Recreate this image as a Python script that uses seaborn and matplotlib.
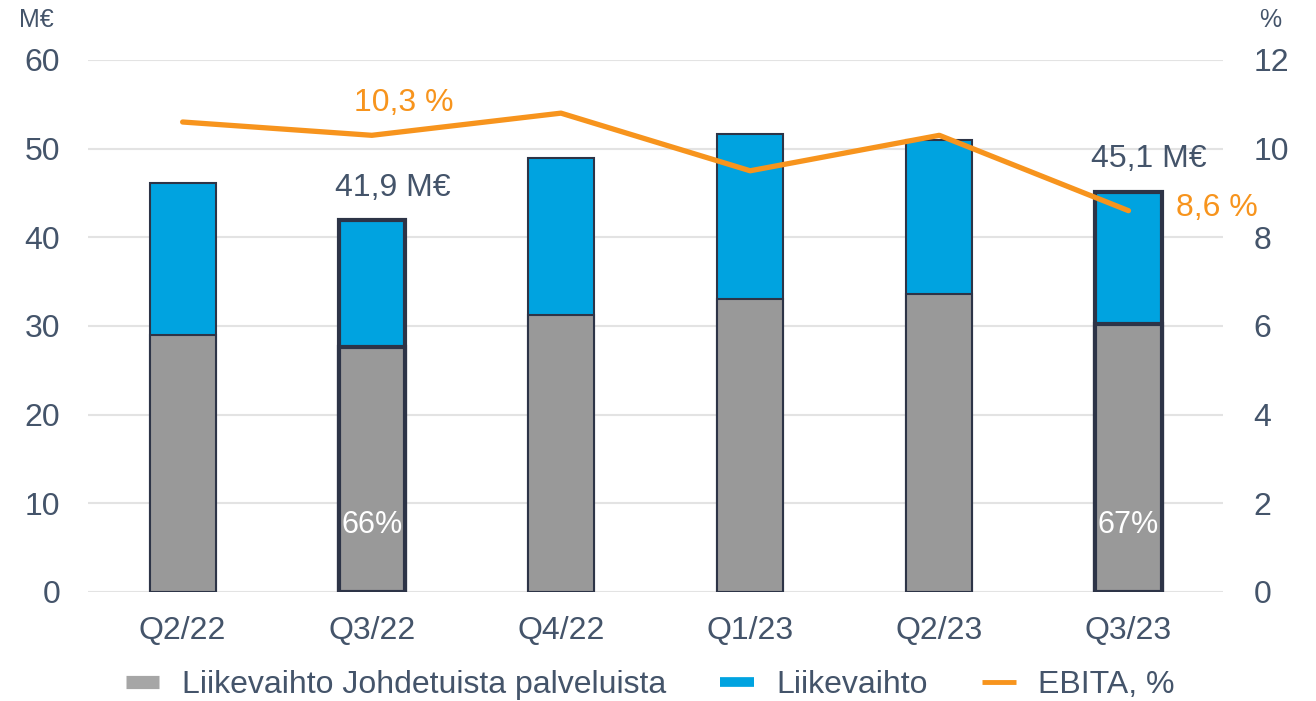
import numpy as np
import pandas as pd
import matplotlib
matplotlib.use("Agg")
import matplotlib.pyplot as plt
from matplotlib.lines import Line2D
import seaborn as sns

quarters = ["Q2/22", "Q3/22", "Q4/22", "Q1/23", "Q2/23", "Q3/23"]
revenue = [46.1, 41.9, 48.9, 51.6, 51.0, 45.1]
managed_revenue = [29.0, 27.6, 31.2, 33.0, 33.6, 30.2]
ebita_pct = [10.6, 10.3, 10.8, 9.5, 10.3, 8.6]
highlight = ["Q3/22", "Q3/23"]
share_labels = {"Q3/22": "66%", "Q3/23": "67%"}
total_labels = {"Q3/22": "41,9 M€", "Q3/23": "45,1 M€"}
ebita_labels = {"Q3/22": "10,3 %", "Q3/23": "8,6 %"}

GREY = "#999999"
BLUE = "#00a3e0"
ORANGE = "#f7941d"
TEXT = "#44546a"
EDGE = "#2d3447"
FS = 23

sns.set_theme(style="white")
plt.rcParams["font.family"] = ["Liberation Sans", "DejaVu Sans"]

df = pd.DataFrame({"quarter": quarters, "revenue": revenue,
                   "managed": managed_revenue, "ebita": ebita_pct})

fig = plt.figure(figsize=(13.16, 7.01), dpi=100)
ax = fig.add_axes([0.0669, 0.1555, 0.8625, 0.7590])

# blue total first, grey part drawn over it
sns.barplot(data=df, x="quarter", y="revenue", color=BLUE, width=0.35,
            edgecolor=EDGE, linewidth=1.5, saturation=1, ax=ax)
sns.barplot(data=df, x="quarter", y="managed", color=GREY, width=0.35,
            edgecolor=EDGE, linewidth=1.5, saturation=1, ax=ax)

n = len(quarters)
for i, p in enumerate(ax.patches):
    if quarters[i % n] in highlight:
        p.set_linewidth(3)

ax.set_ylim(0, 60)
ax.set_xlim(-0.5, n - 0.5)
ax.set_yticks(np.arange(0, 61, 10))
ax.yaxis.grid(True, color="#e3e3e3", linewidth=1.5)
ax.set_axisbelow(True)
ax.set_xlabel("")
ax.set_ylabel("")
ax.tick_params(axis="y", labelsize=FS, colors=TEXT, length=0, pad=20)
ax.tick_params(axis="x", labelsize=FS, colors=TEXT, length=0, pad=17)
for s in ax.spines.values():
    s.set_visible(False)

ax2 = ax.twinx()
sns.lineplot(x=np.arange(n), y=df["ebita"], color=ORANGE, linewidth=3.8,
             ax=ax2, legend=False)
ax2.set_ylim(0, 12)
ax2.set_yticks(np.arange(0, 13, 2))
ax2.set_ylabel("")
ax2.tick_params(axis="y", labelsize=FS, colors=TEXT, length=0, pad=22)
for s in ax2.spines.values():
    s.set_visible(False)

for i, q in enumerate(quarters):
    if q in share_labels:
        ax.text(i, 7.5, share_labels[q], color="white", fontsize=FS - 1,
                ha="center", va="center")
    if q in total_labels:
        ax.text(i + 0.11, revenue[i] + 3.7, total_labels[q], color=TEXT,
                fontsize=FS, ha="center", va="center")

ax2.text(1 + 0.17, ebita_pct[1] + 0.73, ebita_labels["Q3/22"], color=ORANGE,
         fontsize=FS, ha="center", va="center")
ax2.text(5 + 0.25, ebita_pct[5] + 0.05, ebita_labels["Q3/23"], color=ORANGE,
         fontsize=FS, ha="left", va="center")

fig.text(0.028, 0.972, "M€", color=TEXT, fontsize=18, ha="center", va="center")
fig.text(0.965, 0.972, "%", color=TEXT, fontsize=18, ha="center", va="center")

handles = [
    Line2D([0], [0], color="#a6a6a6", linewidth=9.5, solid_capstyle="butt"),
    Line2D([0], [0], color=BLUE, linewidth=7, solid_capstyle="butt"),
    Line2D([0], [0], color=ORANGE, linewidth=3.5, solid_capstyle="butt"),
]
labels = ["Liikevaihto Johdetuista palveluista", "Liikevaihto", "EBITA, %"]
fig.legend(handles, labels, loc="center", bbox_to_anchor=(0.494, 0.023),
           ncol=3, frameon=False, fontsize=FS, labelcolor=TEXT,
           handlelength=1.05, columnspacing=1.7, handletextpad=0.7,
           borderpad=0, borderaxespad=0)

fig.savefig("out.png", dpi=100)
